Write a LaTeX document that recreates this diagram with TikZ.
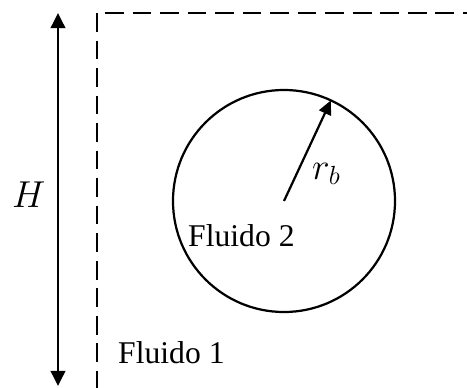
\documentclass[tikz,border=0pt]{standalone}
\usepackage{fix-cm}
\usepackage{fontspec}
\setmainfont{Liberation Serif}
\usetikzlibrary{arrows.meta,positioning}
\tikzset{
  wall/.style={line width=1.9pt, dash pattern=on 16pt off 7.5pt},
  dimarrow/.style={line width=1.9pt, {Triangle[length=13pt,width=12.5pt]}-{Triangle[length=13pt,width=12.5pt]}},
  radline/.style={line width=1.9pt, -{Triangle[length=12pt,width=11pt]}},
  bubble/.style={circle, draw, line width=1.9pt, minimum size=6.66cm, inner sep=0pt, outer sep=0pt},
  fluid/.style={font=\fontsize{27}{30}\selectfont, inner sep=0pt, anchor=base west},
  symbol/.style={font=\fontsize{32}{36}\selectfont, inner sep=0pt, anchor=base west}
}

\begin{document}
\begin{tikzpicture}[x=0.03cm,y=-0.03cm]
\useasboundingbox (0,0) rectangle (467,388);

% domain boundary
\coordinate (corner) at (97,13);
\draw[wall] (corner) -- (97,388);
\draw[wall] (105,13) -- (467,13);

% height of the domain
\coordinate (htop) at (58,13);
\coordinate (hbot) at (58,386);
\draw[dimarrow] (htop) -- (hbot);
\node[symbol] (hlab) at (12,207) {$H$};

% bubble
\node[bubble] (bub) at (284,201) {};
\draw[radline] (bub.center) -- (bub.65);
\node[symbol] (rlab) at (312,179) {$r_b$};

\node[fluid] (f2) at (188,246) {Fluido 2};
\node[fluid] (f1) at (118,363) {Fluido 1};
\end{tikzpicture}
\end{document}
